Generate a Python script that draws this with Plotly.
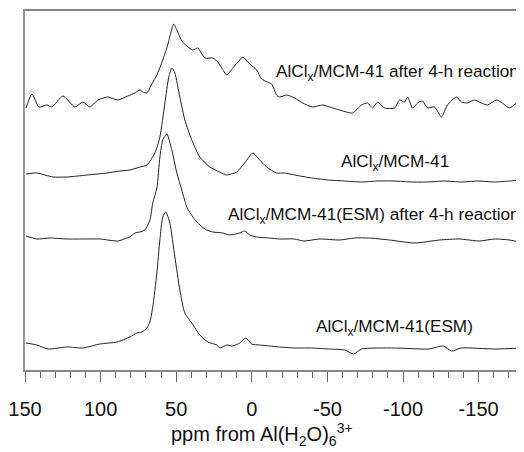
import plotly.graph_objects as go

# ---- data (ppm, intensity in arbitrary stacked units) ----
ppm_a = [149.3, 145.4, 140.8, 135.5, 132.2, 124.9, 117.0, 111.7, 107.1, 101.8, 95.2, 88.6, 82.0, 77.3,
         74.0, 72.1, 69.4, 66.1, 62.8, 58.9, 56.2, 53.6, 51.6, 49.6, 46.3, 43.0, 39.0, 35.7, 31.1, 25.8,
         22.5, 19.9, 16.6, 12.6, 8.0, 6.0, 1.4, -3.2, -6.5, -10.5, -13.1, -16.4, -18.4, -23.1, -28.3,
         -33.6, -40.2, -46.8, -53.4, -62.7, -66.6, -72.6, -76.6, -79.9, -83.2, -87.8, -94.4, -97.7,
         -101.0, -103.0, -106.3, -109.6, -112.9, -116.2, -120.8, -125.4, -129.4, -135.3, -138.6, -142.6,
         -147.2, -151.8, -155.8, -161.8, -165.7, -170.3, -175.0, -178.9]
int_a = [262, 276, 263, 265, 263, 274, 263, 268, 263, 270, 273, 270, 274, 277,
         280, 278, 277, 286, 295, 310, 322, 337, 346, 340, 329, 324, 320, 322, 312, 312,
         308, 302, 295, 302, 310, 313, 306, 300, 291, 288, 286, 275, 273, 275, 272,
         267, 263, 265, 262, 258, 257, 265, 267, 262, 268, 262, 262, 270,
         268, 273, 262, 267, 269, 262, 263, 253, 265, 273, 268, 267,
         270, 267, 265, 270, 267, 262, 267, 273]

ppm_b = [149.3, 142.1, 131.5, 122.3, 109.0, 95.8, 87.3, 80.6, 74.0, 69.4, 64.1, 60.8, 57.5, 54.9, 52.9,
         50.9, 47.6, 44.3, 39.7, 34.4, 27.8, 21.2, 16.6, 10.0, 4.7, -0.6, -5.2, -9.8, -16.4, -21.7,
         -28.3, -39.6, -50.8, -61.4, -72.6, -83.2, -94.4, -105.6, -116.8, -127.4, -138.6, -149.2,
         -160.4, -170.3, -179.6]
int_b = [196, 197, 193, 193, 195, 197, 199, 200, 203, 205, 217, 233, 267, 293, 302,
         297, 273, 250, 230, 213, 203, 198, 195, 198, 207, 217, 210, 203, 197, 197,
         195, 192, 190, 189, 188, 189, 189, 188, 188, 189, 188, 189,
         188, 189, 190]

ppm_c = [149.3, 142.1, 133.5, 122.3, 111.7, 100.5, 88.6, 82.6, 80.6, 77.3, 74.0, 70.7, 67.4, 65.5, 62.8,
         60.8, 58.9, 56.2, 52.9, 49.6, 46.3, 43.0, 39.0, 34.4, 29.8, 25.8, 19.2, 14.6, 8.0, 4.7, 1.4,
         -3.2, -11.8, -18.4, -28.3, -34.3, -44.8, -58.1, -68.0, -77.2, -91.1, -107.6, -124.1, -137.3,
         -150.5, -160.4, -170.3, -179.6]
int_c = [134, 131, 132, 131, 131, 131, 129, 132, 133, 137, 138, 140, 150, 167, 182,
         213, 230, 236, 220, 197, 180, 163, 153, 145, 140, 138, 137, 135, 137, 139, 135,
         133, 132, 131, 131, 129, 131, 130, 132, 132, 130, 127, 130, 131,
         129, 131, 130, 127]

ppm_d = [149.3, 142.1, 134.8, 122.3, 111.7, 100.5, 89.2, 80.6, 76.0, 72.7, 69.4, 67.4, 65.5, 62.8, 60.8,
         58.9, 56.9, 54.2, 50.9, 47.6, 44.3, 39.7, 34.4, 29.1, 23.2, 21.2, 16.6, 12.6, 8.0, 4.0, 0.1,
         -5.2, -11.8, -18.4, -28.3, -39.6, -50.8, -61.4, -67.3, -72.6, -94.4, -116.8, -126.7, -132.0,
         -138.6, -160.4, -179.6]
int_d = [27, 25, 21, 23, 22, 26, 28, 33, 37, 38, 42, 48, 63, 97, 130,
         153, 158, 147, 113, 80, 57, 47, 35, 28, 25, 22, 25, 24, 27, 32, 26,
         25, 24, 23, 22, 22, 21, 20, 16, 21, 22, 21, 24, 19,
         22, 21, 22]

labels = ["AlCl<sub>x</sub>/MCM-41 after 4-h reaction",
          "AlCl<sub>x</sub>/MCM-41",
          "AlCl<sub>x</sub>/MCM-41(ESM) after 4-h reaction",
          "AlCl<sub>x</sub>/MCM-41(ESM)"]

x_ticks = [150, 100, 50, 0, -50, -100, -150]
x_title = "ppm from Al(H<sub>2</sub>O)<sub>6</sub><sup>3+</sup>"

FONT = "Liberation Sans, Arial, sans-serif"

fig = go.Figure()
for xs, ys in [(ppm_a, int_a), (ppm_b, int_b), (ppm_c, int_c), (ppm_d, int_d)]:
    fig.add_trace(go.Scatter(x=xs, y=ys, mode="lines",
                             line=dict(color="#222222", width=1, shape="spline", smoothing=0.6),
                             showlegend=False, hoverinfo="skip"))

# annotation positions (ppm, intensity)
ann_pos = [(-15.1, 298, "left"), (-94.4, 208, "center"), (16.6, 155, "left"), (-94.4, 43, "center")]
for (ax, ay, anc), txt in zip(ann_pos, labels):
    fig.add_annotation(x=ax, y=ay, xref="x", yref="y", text=txt, showarrow=False,
                       xanchor=anc, yanchor="middle", borderpad=0,
                       font=dict(family=FONT, size=17.2, color="#111111"))

fig.add_annotation(x=0.475, y=-0.18, xref="paper", yref="paper", text=x_title,
                   showarrow=False, xanchor="center", yanchor="middle",
                   font=dict(family=FONT, size=20, color="#111111"))

# the page body adds an 8px offset, so the figure is sized/margined to compensate
fig.update_layout(
    width=516, height=444,
    margin=dict(l=17, r=0, t=3, b=82),
    paper_bgcolor="white", plot_bgcolor="white",
    font=dict(family=FONT, color="#111111"),
    xaxis=dict(range=[150, -180], tickvals=x_ticks, ticktext=[str(v) for v in x_ticks],
               showgrid=False, zeroline=False,
               showline=True, linecolor="#888888", linewidth=1.5, mirror=True,
               ticks="outside", ticklen=10, tickwidth=1, tickcolor="#666666",
               tickfont=dict(size=20, family=FONT, color="#111111"),
               ticklabelstandoff=10,
               minor=dict(tickvals=list(range(150, -181, -10)), ticks="outside", ticklen=6,
                          tickwidth=1, tickcolor="#666666", showgrid=False)),
    yaxis=dict(range=[0, 359], showticklabels=False, ticks="", showgrid=False, zeroline=False,
               showline=True, linecolor="#999999", linewidth=1.5),
)

fig.write_html("out.html")
